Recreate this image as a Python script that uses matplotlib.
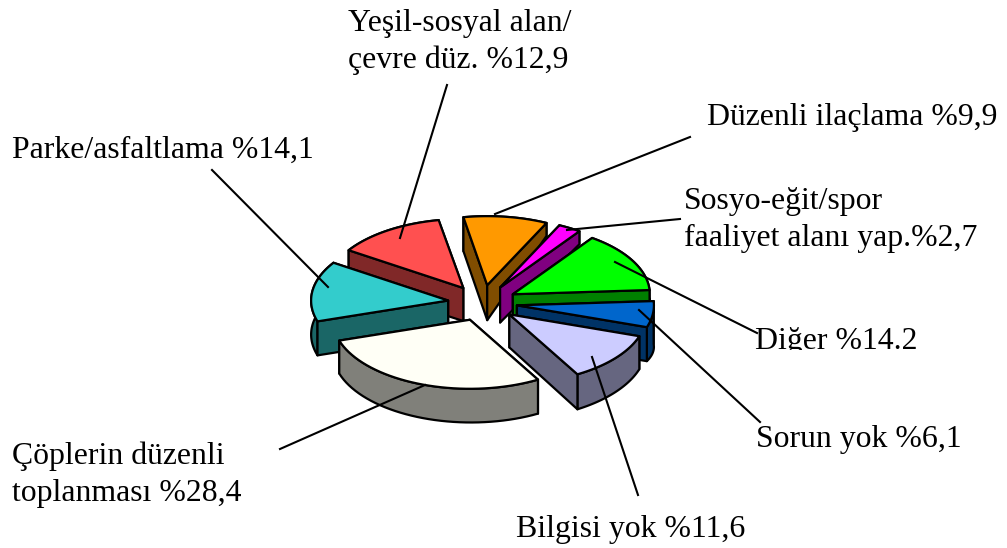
"""Exploded 3D-look pie of the reported neighbourhood needs."""

import matplotlib.pyplot as plt
import numpy as np
from matplotlib.patches import Rectangle

# clockwise from the top, starting at the orange slice
labels = [
    "Düzenli ilaçlama %9,9",
    "Sosyo-eğit/spor\nfaaliyet alanı yap.%2,7",
    "Diğer %14.2",
    "Sorun yok %6,1",
    "Bilgisi yok %11,6",
    "Çöplerin düzenli\ntoplanması %28,4",
    "Parke/asfaltlama %14,1",
    "Yeşil-sosyal alan/\nçevre düz. %12,9",
]
values = [9.9, 2.7, 14.2, 6.1, 11.6, 28.4, 14.1, 12.9]

top_colors = ["#FF9900", "#FF00FF", "#00FF00", "#0066CC", "#CCCCFF", "#FFFFF6", "#33CCCC", "#FF5050"]
side_colors = ["#804D00", "#800080", "#008000", "#003366", "#666680", "#80807A", "#1A6666", "#802828"]

# wall height at apex, first corner, second corner (the perspective is not regular)
wall_depths = [(35, 34, 13), (35, 13, 13), (34, 13, 11), (34, 43, 34), (33, 33, 35), (33, 34, 33), (34, 34, 34), (33, 34, 34)]
draw_order = [7, 0, 1, 2, 3, 6, 4, 5]

# text anchor (left, vertical centre of the block)
label_pos = [(707, 118), (684, 220), (755, 341), (756, 439), (516, 529), (12, 475), (12, 150), (348, 42)]
# leader lines: inside the slice -> towards the label
leaders = [
    ((495, 214), (690, 137)),
    ((567, 230), (680, 219)),
    ((615, 262), (757, 333)),
    ((639, 310), (760, 422)),
    ((592, 357), (638, 495)),
    ((425, 385), (280, 449)),
    ((328, 287), (212, 170)),
    ((400, 238), (447, 85)),
]

CENTER = (482.5, 303.0)
RADIUS = (137.0, 69.0)
EXPLODE = (34.7, 18.0)
START_ANGLE = 100.0
LINE = 1.6
CUT_LABEL = "Diğer %14.2"  # the bottom of this label is cut off in the source
CUT_Y = 350


def outline(ax, points, color, zorder):
    ax.fill(points[:, 0], points[:, 1], facecolor=color, edgecolor="black",
            linewidth=LINE, joinstyle="round", zorder=zorder)


def cross(u, v):
    return u[0] * v[1] - u[1] * v[0]


def draw_slice(ax, theta1, theta2, top, side, depths, zorder):
    mid = np.radians((theta1 + theta2) / 2)
    apex = np.array([CENTER[0] + EXPLODE[0] * np.cos(mid), CENTER[1] - EXPLODE[1] * np.sin(mid)])
    angles = np.radians(np.linspace(theta1, theta2, 40))
    arc = np.column_stack([apex[0] + RADIUS[0] * np.cos(angles), apex[1] - RADIUS[1] * np.sin(angles)])

    d_apex, d_first, d_last = depths
    down = np.column_stack([np.zeros(len(arc)), np.linspace(d_first, d_last, len(arc))])
    apex_low = apex + [0, d_apex]

    # a cut face is hidden when going down moves into the lid: those go under the outer wall
    hidden, visible = [], []
    for k in (0, -1):
        face = np.array([apex, arc[k], arc[k] + down[k], apex_low])
        edge = arc[k] - apex
        inner = arc[len(arc) // 2] - apex
        if cross(edge, (0, 1)) * cross(edge, inner) > 0:
            hidden.append(face)
        else:
            visible.append(face)

    for face in hidden:
        outline(ax, face, side, zorder)
    outline(ax, np.vstack([arc, (arc + down)[::-1]]), side, zorder + 0.1)
    for face in visible:
        outline(ax, face, side, zorder + 0.2)
    outline(ax, np.vstack([apex, arc]), top, zorder + 0.3)


def main():
    plt.rcParams["font.family"] = ["Liberation Serif", "DejaVu Serif"]
    fig = plt.figure(figsize=(10.07, 5.48), dpi=100)
    ax = fig.add_axes([0, 0, 1, 1])
    ax.set_xlim(0, 1007)
    ax.set_ylim(548, 0)
    ax.axis("off")

    edges = START_ANGLE - np.concatenate([[0], np.cumsum(values)]) * 3.6
    for rank, i in enumerate(draw_order):
        draw_slice(ax, edges[i], edges[i + 1], top_colors[i], side_colors[i], wall_depths[i], rank * 2)

    for (p0, p1) in leaders:
        ax.plot([p0[0], p1[0]], [p0[1], p1[1]], color="black", linewidth=1.5, zorder=30)

    for text, (x, y) in zip(labels, label_pos):
        t = ax.text(x, y, text, fontsize=22.9, ha="left", va="center", linespacing=1.35, zorder=20)
        if text == CUT_LABEL:
            t.set_clip_path(Rectangle((0, 0), 1007, CUT_Y, transform=ax.transData))
            t.set_clip_on(True)

    fig.savefig("out.png", dpi=100)
    plt.close(fig)


if __name__ == "__main__":
    main()
